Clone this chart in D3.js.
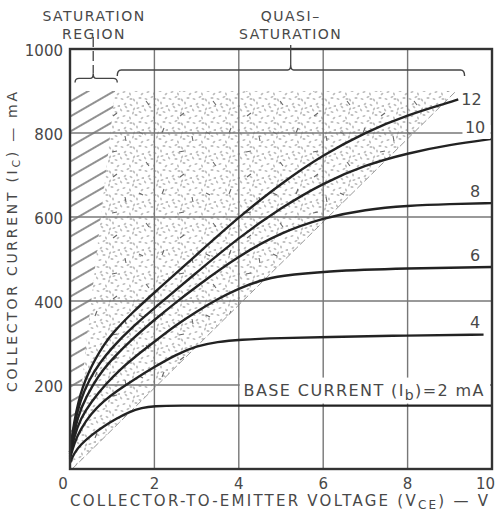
<!DOCTYPE html><html lang="en">
<head>
  <meta charset="UTF-8">
  <title>Collector characteristics</title>
  <script src="https://d3js.org/d3.v7.min.js"></script>
  <style>
    body {
      margin: 0;
      background: white;
    }
    svg {
      display: block;
      font-family: "DejaVu Sans", sans-serif;
    }
    .lbl {
      fill: #484848;
    }
  </style>
</head>
<body>
<svg width="496" height="511"></svg>
<script>
// axis ticks
const xTicks = [0, 2, 4, 6, 8, 10];
const yTicks = [200, 400, 600, 800, 1000];

// collector curves, [Vce (V), Ic (mA)] for each base current
const ib2 = [[0,15],[0.1,38],[0.25,58],[0.5,80],[0.8,102],[1.1,120],[1.4,136],[1.7,146],[2,150],[2.5,151],[4,151],[10,151]];
const ib4 = [[0,25],[0.1,62],[0.25,95],[0.5,132],[0.8,162],[1.1,185],[1.5,212],[2,243],[2.5,272],[3,293],[3.5,303],[4,308],[5,312],[6,314],[8,318],[9.8,320]];
const ib6 = [[0,30],[0.1,78],[0.25,120],[0.5,160],[0.87,205],[1.2,238],[1.5,264],[2,303],[2.5,342],[3,375],[3.5,405],[4,430],[4.5,449],[5,460],[6,471],[8,478],[10,481]];
const ib8 = [[0,35],[0.1,92],[0.25,145],[0.55,203],[0.8,238],[1,262],[1.5,312],[2,355],[2.5,396],[3,435],[4,508],[5,563],[6,598],[7,618],[8,627],[9,631],[10,633]];
const ib10 = [[0,40],[0.1,108],[0.25,165],[0.45,212],[0.7,252],[1,290],[1.5,340],[2,383],[3,468],[4,551],[5,622],[6,681],[7,724],[8,752],[9,772],[10,786]];
const ib12 = [[0,40],[0.1,115],[0.2,160],[0.3,195],[0.45,232],[0.6,262],[0.8,295],[1,323],[1.5,375],[2,420],[3,510],[4,600],[5,680],[6,748],[7,802],[8,843],[9,873],[9.2,880]];
const baseCurrents = [2, 4, 6, 8, 10, 12];
const curves = [ib2, ib4, ib6, ib8, ib10, ib12];

// regions, [Vce, Ic]
const saturationRegion = [[0,0],[0,900],[1.07,900],[0.05,0]];
const quasiRegion = [[0.05,0],[1.07,900],[9.15,900]];

const svg = d3.select("svg");
const x = d3.scaleLinear().domain([0, 10]).range([70, 492]);
const y = d3.scaleLinear().domain([0, 1000]).range([469, 49]);

const defs = svg.append("defs");

// stipple for quasi-saturation
const dots = defs.append("pattern")
  .attr("id", "dots").attr("patternUnits", "userSpaceOnUse")
  .attr("width", 24).attr("height", 24);
[[2,3,20],[8,1,-30],[14,4,60],[20,2,0],[5,8,-45],[11,9,30],[17,7,80],[23,10,-10],
 [1,14,50],[8,15,0],[14,13,-60],[20,16,20],[4,20,-20],[10,22,70],[16,19,10],[22,22,-40],
 [11,3,0],[18,12,-20],[6,11,40],[13,17,-70]]
  .forEach(d => dots.append("ellipse")
    .attr("cx", d[0]).attr("cy", d[1]).attr("rx", 1.6).attr("ry", 0.9)
    .attr("transform", `rotate(${d[2]},${d[0]},${d[1]})`)
    .attr("fill", "#bdbdbd"));

const dashes = defs.append("pattern")
  .attr("id", "dashes").attr("patternUnits", "userSpaceOnUse")
  .attr("width", 67).attr("height", 61);
["M5 10 l4 2", "M30 6 l-2 5", "M45 30 l5 -1", "M12 40 l3 4", "M50 52 l-4 3", "M58 14 l1 5"]
  .forEach(p => dashes.append("path").attr("d", p)
    .attr("stroke", "#666").attr("stroke-width", 1.1).attr("fill", "none"));

const hatch = defs.append("pattern")
  .attr("id", "hatch").attr("patternUnits", "userSpaceOnUse")
  .attr("width", 13).attr("height", 13)
  .attr("patternTransform", "rotate(-30)");
hatch.append("line").attr("x1", 0).attr("x2", 13).attr("y1", 6).attr("y2", 6)
  .attr("stroke", "#555").attr("stroke-width", 1.3);

const poly = pts => "M" + pts.map(d => [x(d[0]), y(d[1])].join(",")).join("L") + "Z";

svg.append("path").attr("d", poly(quasiRegion)).attr("fill", "url(#dots)");
svg.append("path").attr("d", poly(quasiRegion)).attr("fill", "url(#dashes)");
svg.append("path").attr("d", poly(saturationRegion)).attr("fill", "url(#hatch)");

// right edge of the stipple
svg.append("line")
  .attr("x1", x(quasiRegion[0][0])).attr("y1", y(quasiRegion[0][1]))
  .attr("x2", x(quasiRegion[2][0])).attr("y2", y(quasiRegion[2][1]))
  .attr("stroke", "#999").attr("stroke-width", 1).attr("stroke-dasharray", "7,3");

// grid
svg.append("g").selectAll("line")
  .data(xTicks.slice(1, -1)).enter().append("line")
  .attr("x1", d => x(d)).attr("x2", d => x(d))
  .attr("y1", y(0)).attr("y2", y(1000))
  .attr("stroke", "#777").attr("stroke-width", 1.4);
svg.append("g").selectAll("line")
  .data(yTicks.slice(0, -1)).enter().append("line")
  .attr("x1", x(0)).attr("x2", x(10))
  .attr("y1", d => y(d)).attr("y2", d => y(d))
  .attr("stroke", "#777").attr("stroke-width", 1.4);

// curves
const line = d3.line().x(d => x(d[0])).y(d => y(d[1])).curve(d3.curveBasis);
svg.append("g").selectAll("path")
  .data(curves).enter().append("path")
  .attr("d", line)
  .attr("fill", "none").attr("stroke", "#222").attr("stroke-width", 2.4);

// frame
svg.append("rect")
  .attr("x", x(0)).attr("y", y(1000))
  .attr("width", x(10) - x(0)).attr("height", y(0) - y(1000))
  .attr("fill", "none").attr("stroke", "#333").attr("stroke-width", 2.4);

// curve labels
baseCurrents.forEach((ib, i) => {
  const c = curves[i];
  const last = c[c.length - 1];
  if (ib === 2) {
    svg.append("rect").attr("x", x(4) + 1).attr("y", y(last[1]) - 28)
      .attr("width", x(10) - x(4) - 3).attr("height", 26).attr("fill", "white");
    const t = svg.append("text").attr("class", "lbl")
      .attr("x", x(9.8)).attr("y", y(last[1]) - 10)
      .attr("text-anchor", "end").attr("font-size", 16)
      .attr("textLength", 240).attr("lengthAdjust", "spacing");
    t.append("tspan").text("BASE CURRENT (I");
    t.append("tspan").attr("dy", 4).attr("font-size", 14).text("b");
    t.append("tspan").attr("dy", -4).text(")=2 mA");
  } else if (ib === 12) {
    svg.append("text").attr("class", "lbl")
      .attr("x", x(last[0]) + 3).attr("y", y(last[1]))
      .attr("dy", "0.36em").attr("font-size", 16).text(ib);
  } else {
    if (ib === 10) {
      svg.append("rect").attr("x", x(9.3)).attr("y", y(800) - 8)
        .attr("width", x(10) - x(9.3) - 1.5).attr("height", 14).attr("fill", "white");
    }
    svg.append("text").attr("class", "lbl")
      .attr("x", x(9.6)).attr("y", y(last[1]) - 12)
      .attr("dy", "0.36em").attr("text-anchor", "middle").attr("font-size", 16).text(ib);
  }
});

// tick labels
svg.append("g").selectAll("text")
  .data(yTicks).enter().append("text").attr("class", "lbl")
  .attr("x", x(0) - 7).attr("y", d => y(d) + 2)
  .attr("dy", "0.36em").attr("text-anchor", "end").attr("font-size", 15)
  .text(d => d);
svg.append("g").selectAll("text")
  .data(xTicks).enter().append("text").attr("class", "lbl")
  .attr("x", d => d === 0 ? x(d) - 7 : (d === 10 ? 495 : x(d)))
  .attr("y", y(0) + 20)
  .attr("text-anchor", d => d === 10 ? "end" : "middle").attr("font-size", 15)
  .text(d => d);

// axis titles
const xt = svg.append("text").attr("class", "lbl")
  .attr("x", x(0)).attr("y", 506).attr("font-size", 15)
  .attr("textLength", 418).attr("lengthAdjust", "spacing");
xt.append("tspan").text("COLLECTOR-TO-EMITTER VOLTAGE (V");
xt.append("tspan").attr("dy", 3).attr("font-size", 12).text("CE");
xt.append("tspan").attr("dy", -3).text(") — V");

const yt = svg.append("text").attr("class", "lbl")
  .attr("transform", "translate(17,392) rotate(-90)")
  .attr("font-size", 14)
  .attr("textLength", 300).attr("lengthAdjust", "spacing");
yt.append("tspan").text("COLLECTOR CURRENT (I");
yt.append("tspan").attr("dy", 3).attr("font-size", 11).text("C");
yt.append("tspan").attr("dy", -3).text(") — mA");

// region brackets
function brace(v0, v1, vt, ic, h) {
  const x0 = x(v0), x1 = x(v1), xt = x(vt), yy = y(ic);
  return `M${x0},${yy + h} Q${x0},${yy} ${x0 + 4},${yy} L${xt - 3},${yy} Q${xt},${yy} ${xt},${yy - 5}` +
    ` Q${xt},${yy} ${xt + 3},${yy} L${x1 - 4},${yy} Q${x1},${yy} ${x1},${yy + h}`;
}
svg.append("path").attr("d", brace(0.12, 1.12, 0.55, 930, 4))
  .attr("fill", "none").attr("stroke", "#444").attr("stroke-width", 1.4);
svg.append("path").attr("d", brace(1.12, 9.35, 5.23, 950, 6))
  .attr("fill", "none").attr("stroke", "#444").attr("stroke-width", 1.4);
svg.append("line").attr("x1", x(0.55)).attr("x2", x(0.55))
  .attr("y1", 37).attr("y2", y(930) - 5)
  .attr("stroke", "#444").attr("stroke-width", 1.3).attr("stroke-dasharray", "10,4");
svg.append("line").attr("x1", x(5.23)).attr("x2", x(5.23))
  .attr("y1", 45).attr("y2", y(950) - 5)
  .attr("stroke", "#444").attr("stroke-width", 1.3);

const titles = [
  ["SATURATION", 0.57, 21], ["REGION", 0.57, 39],
  ["QUASI–", 5.23, 21], ["SATURATION", 5.23, 39]
];
svg.append("g").selectAll("text")
  .data(titles).enter().append("text").attr("class", "lbl")
  .attr("x", d => x(d[1])).attr("y", d => d[2])
  .attr("text-anchor", "middle").attr("font-size", 14)
  .attr("letter-spacing", 1.5)
  .text(d => d[0]);
</script>
</body>
</html>
